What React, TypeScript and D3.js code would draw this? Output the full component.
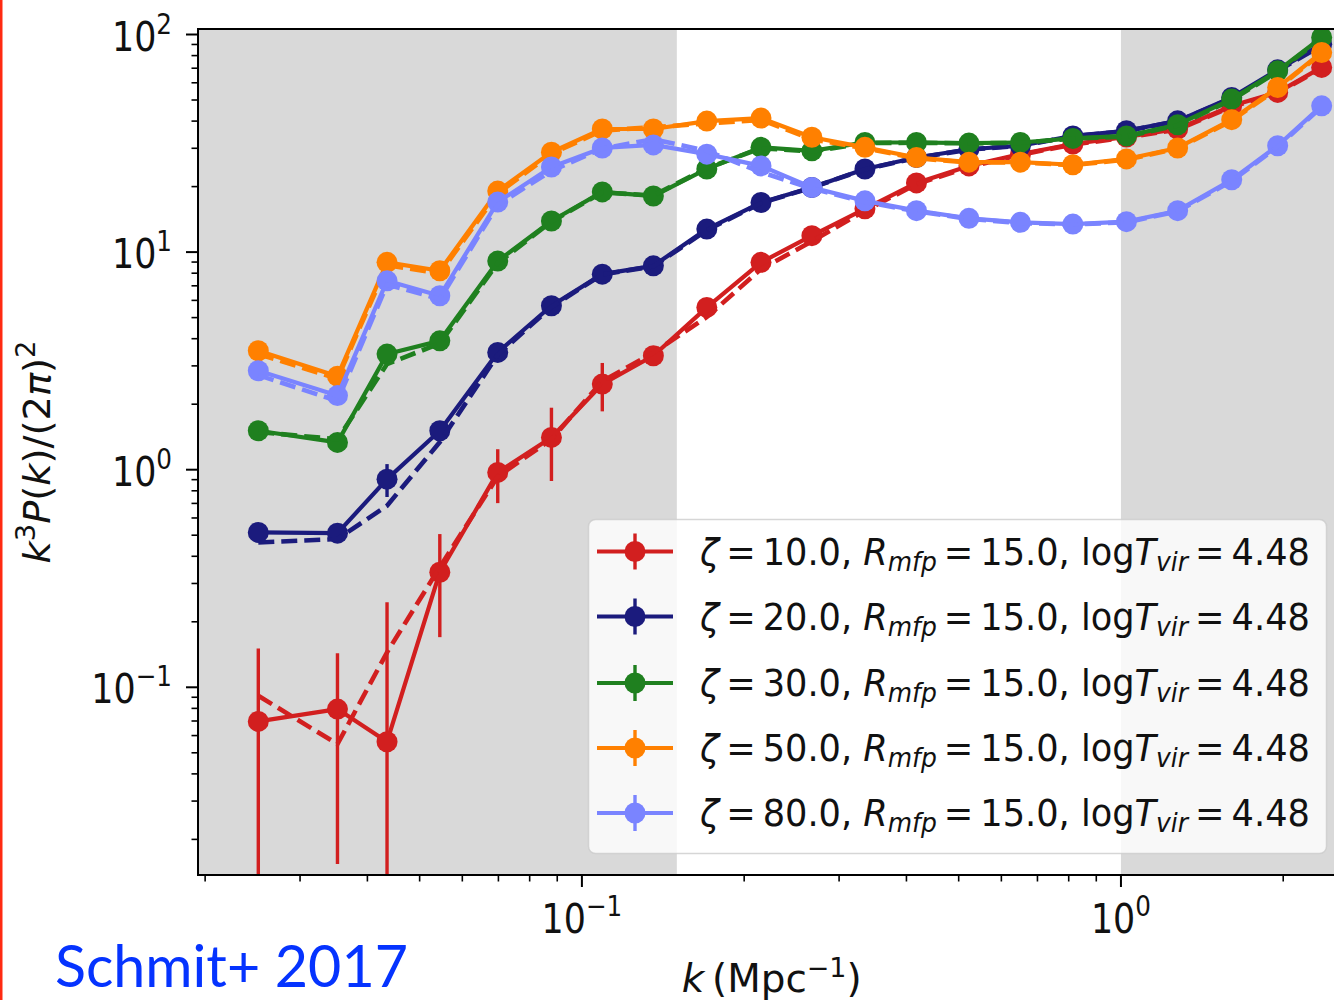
import React, { useLayoutEffect, useRef, useState } from 'react';
import * as d3 from 'd3';

// Wavenumber bins (Mpc^-1)
const K = [0.0251, 0.0352, 0.0435, 0.0545, 0.0698, 0.0878, 0.1091, 0.1357, 0.1705, 0.2149, 0.2671,
  0.335, 0.4175, 0.5224, 0.651, 0.8144, 1.0238, 1.274, 1.605, 1.953, 2.357];

// k^3 P(k) / (2 pi)^2 for each ionising efficiency; "Alt" = dashed comparison run
const zeta10 = [0.0697, 0.0794, 0.0562, 0.338, 0.972, 1.407, 2.474, 3.34, 5.57, 8.97, 11.9, 15.8, 20.8, 24.9, 28.2, 31.4, 33.8, 36.8, 47.0, 54.2, 70.6];
const zeta10Err = [0.081, 0.064, 0.19, 0.168, 0.27, 0.52, 0.62, 0.3, 0.35, 0.4, 0.4, 0.4, 0.4, 0.4, 0.4, 0.4, 0.4, 0.4, 0.5, 0.5, 0.6];
const zeta10Alt = [0.0914, 0.0548, 0.1447, 0.357, 0.93, 1.38, 2.55, 3.45, 5.03, 8.36, 11.2, 15.5, 20.5, 24.6, 28.0, 31.2, 33.6, 36.6, 46.5, 53.8, 70.0];

const zeta20 = [0.515, 0.511, 0.905, 1.51, 3.46, 5.67, 7.92, 8.65, 12.76, 16.9, 19.8, 24.1, 27.2, 29.7, 30.8, 34.2, 36.1, 40.1, 51.4, 68.8, 90.3];
const zeta20Err = [0.03, 0.03, 0.156, 0.12, 0.2, 0.3, 0.4, 0.4, 0.5, 0.5, 0.5, 0.5, 0.5, 0.5, 0.5, 0.5, 0.5, 0.5, 0.6, 0.7, 0.8];
const zeta20Alt = [0.463, 0.48, 0.683, 1.34, 3.37, 5.6, 7.9, 8.6, 12.6, 16.8, 19.8, 24.0, 27.1, 29.6, 30.8, 34.1, 36.0, 40.0, 51.0, 68.0, 89.0];

const zeta30 = [1.51, 1.335, 3.4, 3.91, 9.09, 13.9, 18.9, 18.1, 24.1, 30.3, 29.2, 31.9, 31.9, 31.7, 31.9, 33.3, 34.2, 38.5, 50.5, 68.1, 97.0];
const zeta30Err = [0.05, 0.05, 0.1, 0.1, 0.2, 0.3, 0.4, 0.4, 0.5, 0.5, 0.5, 0.5, 0.5, 0.5, 0.5, 0.5, 0.5, 0.5, 0.6, 0.7, 0.8];
const zeta30Alt = [1.49, 1.38, 3.06, 3.8, 8.9, 13.8, 18.8, 18.2, 24.3, 30.0, 29.0, 31.7, 31.8, 31.6, 31.8, 33.2, 34.0, 38.2, 50.0, 67.5, 96.0];

const zeta50 = [3.52, 2.69, 8.97, 8.21, 19.07, 28.8, 36.8, 36.8, 40.0, 41.3, 33.7, 30.3, 27.2, 25.9, 25.9, 25.2, 26.8, 30.1, 40.6, 57.1, 82.7];
const zeta50Err = [0.1, 0.08, 0.2, 0.2, 0.4, 0.5, 0.6, 0.6, 0.6, 0.6, 0.5, 0.5, 0.5, 0.5, 0.5, 0.5, 0.5, 0.5, 0.6, 0.7, 0.8];
const zeta50Alt = [3.4, 2.62, 8.7, 8.0, 18.6, 28.3, 36.2, 37.5, 39.0, 40.5, 33.0, 30.0, 27.0, 25.8, 25.8, 25.1, 26.6, 29.9, 40.2, 56.5, 82.0];

const zeta80 = [2.85, 2.19, 7.38, 6.3, 16.97, 24.6, 30.1, 31.1, 28.2, 24.9, 19.8, 17.2, 15.5, 14.3, 13.7, 13.45, 13.8, 15.5, 21.5, 30.8, 47.0];
const zeta80Err = [0.08, 0.06, 0.2, 0.2, 0.4, 0.5, 0.5, 0.5, 0.5, 0.5, 0.4, 0.3, 0.3, 0.3, 0.3, 0.3, 0.3, 0.3, 0.4, 0.5, 0.6];
const zeta80Alt = [2.72, 2.07, 7.1, 6.08, 16.5, 23.6, 29.9, 33.0, 29.2, 23.3, 19.6, 17.0, 15.4, 14.2, 13.6, 13.4, 13.7, 15.4, 21.2, 30.5, 46.5];

const ZETAS = [10.0, 20.0, 30.0, 50.0, 80.0];
const COLORS = ['#d21f1f', '#1b1b7d', '#1f801f', '#ff8000', '#7a84ff'];
const R_MFP = 15.0;
const LOG_TVIR = 4.48;

// k ranges outside the fitted window are shaded
const SHADE_LOW = 0.15;
const SHADE_HIGH = 1.0;

const X_DOMAIN = [0.0194, 2.604];
const Y_DOMAIN = [0.01372, 106.0];
const X_MAJOR = [0.1, 1];
const X_MAJOR_EXP = ['\u22121', '0'];
const Y_MAJOR = [0.1, 1, 10, 100];
const Y_MAJOR_EXP = ['\u22121', '0', '1', '2'];

const SERIES = ZETAS.map((z, i) => ({
  zeta: z,
  color: COLORS[i],
  values: [zeta10, zeta20, zeta30, zeta50, zeta80][i],
  errors: [zeta10Err, zeta20Err, zeta30Err, zeta50Err, zeta80Err][i],
  alt: [zeta10Alt, zeta20Alt, zeta30Alt, zeta50Alt, zeta80Alt][i],
}));

const W = 1334;
const H = 1000;
const PLOT = { left: 198, right: 1345, top: 29, bottom: 875 };
const FONT = '"DejaVu Sans", sans-serif';

// Text squeezed horizontally to a target width (measured after layout)
function FitText({ x, y, width, anchor = 'start', rotate = 0, children, ...rest }: any) {
  const ref = useRef<SVGTextElement>(null);
  const [s, setS] = useState(1);
  useLayoutEffect(() => {
    if (ref.current) {
      const w = ref.current.getBBox().width;
      if (w > 0) setS(width / w);
    }
  }, [width]);
  return (
    <g transform={`translate(${x},${y}) rotate(${rotate}) scale(${s},1)`}>
      <text ref={ref} textAnchor={anchor} {...rest}>{children}</text>
    </g>
  );
}

const TICK_SX = 0.85;

function PowLabel({ x, y, exp, anchor }: any) {
  return (
    <g transform={`translate(${x},${y}) scale(${TICK_SX},1)`}>
      <text textAnchor={anchor} fontFamily={FONT} fontSize={41} fill="#111">
        <tspan>10</tspan>
        <tspan fontSize={29} dy={-17}>{exp}</tspan>
      </text>
    </g>
  );
}

export default function App() {
  const x = d3.scaleLog().domain(X_DOMAIN).range([PLOT.left, PLOT.right]);
  const y = d3.scaleLog().domain(Y_DOMAIN).range([PLOT.bottom, PLOT.top]);

  const line = d3.line<number>()
    .x((_, i) => x(K[i]))
    .y((d) => y(d));

  const xMinor: number[] = [];
  for (const dec of [0.01, 0.1, 1]) {
    for (let m = 2; m <= 9; m++) {
      const v = m * dec;
      if (v >= X_DOMAIN[0] && v <= X_DOMAIN[1]) xMinor.push(v);
    }
  }
  const yMinor: number[] = [];
  for (const dec of [0.01, 0.1, 1, 10]) {
    for (let m = 2; m <= 9; m++) {
      const v = m * dec;
      if (v >= Y_DOMAIN[0] && v <= Y_DOMAIN[1]) yMinor.push(v);
    }
  }

  const legendRows = [551.5, 616.5, 683, 748, 813];

  return (
    <svg width={W} height={H} style={{ position: 'absolute', left: 0, top: 0, display: 'block', background: '#fff' }}>
      <defs>
        <clipPath id="plot-clip">
          <rect x={PLOT.left} y={PLOT.top} width={PLOT.right - PLOT.left} height={PLOT.bottom - PLOT.top} />
        </clipPath>
      </defs>
      <rect x={0} y={0} width={W} height={H} fill="#fff" />
      <rect x={0} y={0} width={2.5} height={H} fill="#ff2a12" />

      {/* shaded k ranges */}
      <g clipPath="url(#plot-clip)">
        <rect x={PLOT.left} y={PLOT.top} width={x(SHADE_LOW) - PLOT.left} height={PLOT.bottom - PLOT.top} fill="#d9d9d9" />
        <rect x={x(SHADE_HIGH)} y={PLOT.top} width={PLOT.right - x(SHADE_HIGH)} height={PLOT.bottom - PLOT.top} fill="#d9d9d9" />

        {SERIES.map((s) => (
          <g key={s.zeta}>
            <path d={line(s.values) || ''} fill="none" stroke={s.color} strokeWidth={4.2} strokeLinejoin="round" />
            {s.values.map((v, i) => {
              const e = s.errors[i];
              const lo = v - e > 0 ? y(v - e) : PLOT.bottom + 20;
              return (
                <line key={'e' + i} x1={x(K[i])} x2={x(K[i])} y1={y(v + e)} y2={lo} stroke={s.color} strokeWidth={3.4} />
              );
            })}
            {s.values.map((v, i) => (
              <circle key={'m' + i} cx={x(K[i])} cy={y(v)} r={10.5} fill={s.color} />
            ))}
            <path d={line(s.alt) || ''} fill="none" stroke={s.color} strokeWidth={4.6} strokeDasharray="16,7" />
          </g>
        ))}
      </g>

      {/* spines */}
      <g stroke="#000" strokeWidth={2} fill="none">
        <line x1={PLOT.left} x2={PLOT.left} y1={PLOT.top - 1} y2={PLOT.bottom + 1} />
        <line x1={PLOT.left} x2={PLOT.right} y1={PLOT.top} y2={PLOT.top} />
        <line x1={PLOT.left} x2={PLOT.right} y1={PLOT.bottom} y2={PLOT.bottom} />
      </g>

      {/* ticks */}
      <g stroke="#000">
        {Y_MAJOR.map((v) => (
          <line key={v} x1={PLOT.left - 12} x2={PLOT.left} y1={y(v)} y2={y(v)} strokeWidth={2} />
        ))}
        {yMinor.map((v) => (
          <line key={v} x1={PLOT.left - 6.5} x2={PLOT.left} y1={y(v)} y2={y(v)} strokeWidth={1.6} />
        ))}
        {X_MAJOR.map((v) => (
          <line key={v} x1={x(v)} x2={x(v)} y1={PLOT.bottom} y2={PLOT.bottom + 12} strokeWidth={2} />
        ))}
        {xMinor.map((v) => (
          <line key={v} x1={x(v)} x2={x(v)} y1={PLOT.bottom} y2={PLOT.bottom + 6.5} strokeWidth={1.6} />
        ))}
      </g>
      {Y_MAJOR.map((v, i) => (
        <PowLabel key={v} x={172} y={y(v) + 16} exp={Y_MAJOR_EXP[i]} anchor="end" />
      ))}
      {X_MAJOR.map((v, i) => (
        <PowLabel key={v} x={x(v)} y={933} exp={X_MAJOR_EXP[i]} anchor="middle" />
      ))}

      {/* axis titles */}
      <FitText x={771.7} y={992} width={180} anchor="middle" fontFamily={FONT} fontSize={39} fill="#111">
        <tspan fontStyle="italic">k</tspan>
        <tspan>{'\u2009(Mpc'}</tspan>
        <tspan fontSize={27} dy={-15}>{'\u22121'}</tspan>
        <tspan dy={15}>)</tspan>
      </FitText>
      <FitText x={50} y={452} width={223} anchor="middle" rotate={-90} fontFamily={FONT} fontSize={38} fill="#111">
        <tspan fontStyle="italic">k</tspan>
        <tspan fontSize={27} dy={-15}>3</tspan>
        <tspan fontStyle="italic" dy={15}>P</tspan>
        <tspan>(</tspan>
        <tspan fontStyle="italic">k</tspan>
        <tspan>{')/(2'}</tspan>
        <tspan fontStyle="italic">{'\u03c0'}</tspan>
        <tspan>)</tspan>
        <tspan fontSize={27} dy={-15}>2</tspan>
      </FitText>

      {/* legend */}
      <rect x={588.5} y={519.5} width={738} height={334} rx={7} fill="#fff" fillOpacity={0.8} stroke="#cccccc" strokeOpacity={0.8} strokeWidth={1.5} />
      {SERIES.map((s, i) => {
        const ry = legendRows[i];
        return (
          <g key={'lg' + s.zeta}>
            <line x1={597} x2={673} y1={ry} y2={ry} stroke={s.color} strokeWidth={4.2} />
            <line x1={635} x2={635} y1={ry - 18} y2={ry + 18} stroke={s.color} strokeWidth={3.4} />
            <circle cx={635} cy={ry} r={10.5} fill={s.color} />
            <FitText x={700} y={ry + 13} width={611} fontFamily={FONT} fontSize={38} fill="#111">
              <tspan fontStyle="italic">{'\u03b6'}</tspan>
              <tspan>{`\u2009=\u2009${s.zeta.toFixed(1)}, `}</tspan>
              <tspan fontStyle="italic">R</tspan>
              <tspan fontStyle="italic" fontSize={27} dy={6}>mfp</tspan>
              <tspan dy={-6}>{`\u2009=\u2009${R_MFP.toFixed(1)}, log`}</tspan>
              <tspan fontStyle="italic">T</tspan>
              <tspan fontStyle="italic" fontSize={27} dy={6}>vir</tspan>
              <tspan dy={-6}>{`\u2009=\u2009${LOG_TVIR.toFixed(2)}`}</tspan>
            </FitText>
          </g>
        );
      })}

      {/* citation */}
      <FitText x={55} y={987} width={353} fontFamily='Lato, "Open Sans", sans-serif' fontSize={59} fill="#0533ff">
        Schmit+ 2017
      </FitText>
    </svg>
  );
}
